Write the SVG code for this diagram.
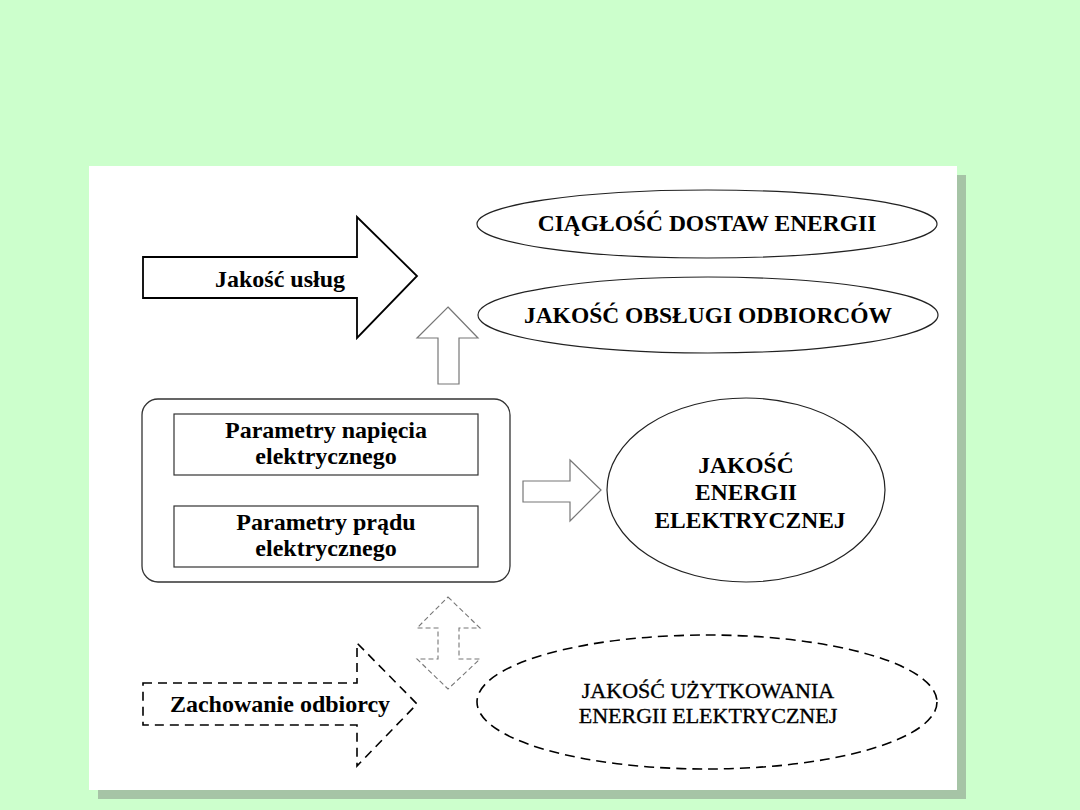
<svg xmlns="http://www.w3.org/2000/svg" width="1080" height="810" viewBox="0 0 1080 810">
<style>
.t{font-family:"Liberation Serif","Times New Roman",serif;font-weight:bold;fill:#000;text-anchor:middle}
.r{font-family:"Liberation Serif","Times New Roman",serif;font-weight:normal;fill:#000;stroke:#000;stroke-width:0.35;text-anchor:middle}
.ell{fill:#fff;stroke:#222;stroke-width:1.2}
.big{fill:#fff;stroke:#000;stroke-width:1.8;stroke-linejoin:miter}
.hollow{fill:#fff;stroke:#777;stroke-width:1.2}
.dash{fill:#fff;stroke:#000;stroke-width:1.6;stroke-dasharray:9 6}
.dashg{fill:#fff;stroke:#777;stroke-width:1.1;stroke-dasharray:5 3}
</style>
<rect x="0" y="0" width="1080" height="810" fill="#ccffcc"/>
<rect x="98" y="175" width="868" height="624" fill="#a6c4a6"/>
<rect x="89" y="166" width="868" height="624" fill="#ffffff"/>

<g id="arrow-uslugi">
<polygon class="big" points="143,257 357,257 357,217 417,276 357,338 357,298 143,298"/>
<text class="t" x="280" y="287" font-size="24">Jakość usług</text>
</g>

<g id="ciaglosc">
<ellipse class="ell" cx="707" cy="224" rx="230" ry="34"/>
<text class="t" x="707" y="231" font-size="23.5">CIĄGŁOŚĆ DOSTAW ENERGII</text>
</g>

<g id="obslugi">
<ellipse class="ell" cx="708" cy="315" rx="230" ry="38"/>
<text class="t" x="708" y="323" font-size="23.5">JAKOŚĆ OBSŁUGI ODBIORCÓW</text>
</g>

<g id="parametry">
<rect x="142" y="399" width="368" height="183" rx="16" ry="16" fill="#fff" stroke="#333" stroke-width="1.3"/>
<rect x="174" y="414" width="304" height="61" fill="#fff" stroke="#333" stroke-width="1.2"/>
<text class="t" x="326" y="438" font-size="24">Parametry napięcia</text>
<text class="t" x="326" y="464" font-size="24">elektrycznego</text>
<rect x="174" y="506" width="304" height="61" fill="#fff" stroke="#333" stroke-width="1.2"/>
<text class="t" x="326" y="530" font-size="24">Parametry prądu</text>
<text class="t" x="326" y="556" font-size="24">elektrycznego</text>
</g>

<g id="jakosc-energii">
<ellipse class="ell" cx="746" cy="490" rx="139" ry="92"/>
<text class="t" x="746" y="473" font-size="23.5">JAKOŚĆ</text>
<text class="t" x="746" y="500" font-size="23.5">ENERGII</text>
<text class="t" x="750" y="528" font-size="23.5">ELEKTRYCZNEJ</text>
</g>

<g id="arrow-zachowanie">
<polygon class="dash" points="143,683 357,683 357,643 417,704 357,766 357,725 143,725"/>
<text class="t" x="280" y="712" font-size="24">Zachowanie odbiorcy</text>
</g>

<g id="uzytkowania">
<ellipse cx="707" cy="702" rx="230" ry="67" fill="#fff" stroke="#000" stroke-width="1.6" stroke-dasharray="10 6"/>
<text class="r" x="708" y="698" font-size="22">JAKOŚĆ UŻYTKOWANIA</text>
<text class="r" x="708" y="723" font-size="22">ENERGII ELEKTRYCZNEJ</text>
</g>

<g id="connectors">
<polygon class="hollow" points="448,307 478,338 459,338 459,384 438,384 438,338 417,338"/>
<polygon class="hollow" points="523,481 570,481 570,460 601,490 570,521 570,502 523,502"/>
<polygon class="dashg" points="448,597 480,628 459,628 459,659 480,659 448,689 417,659 438,659 438,628 417,628"/>
</g>
</svg>
